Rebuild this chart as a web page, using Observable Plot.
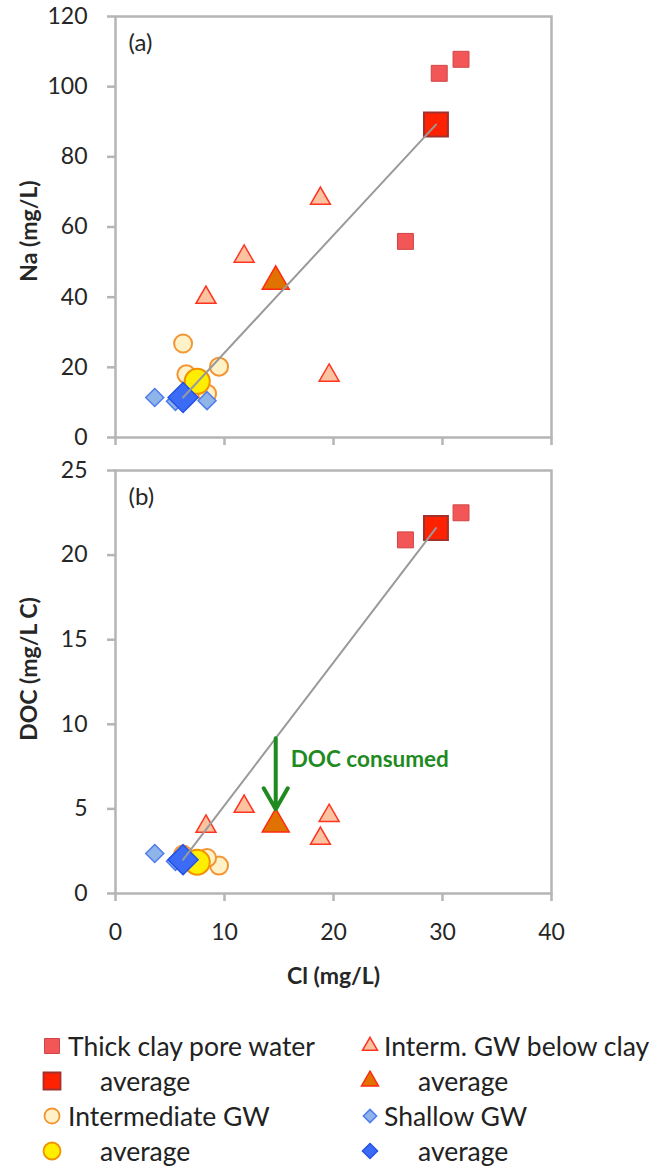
<!DOCTYPE html>
<html>
<head>
<meta charset="utf-8">
<script src="https://cdn.jsdelivr.net/npm/d3@7"></script>
<script src="https://cdn.jsdelivr.net/npm/@observablehq/plot@0.6"></script>
<style>
  body { margin: 0; background: #fff; font-family: Lato, "Open Sans", sans-serif; }
  #wrap { position: relative; width: 652px; height: 1168px; overflow: hidden; }
  #a, #b { display: block; line-height: 0; }
  #legend { position: absolute; left: 0; top: 1028px; width: 652px; height: 140px; font-size: 26.5px; color: #222; }
  .item { position: absolute; height: 35px; display: flex; align-items: center; white-space: nowrap; }
  .item svg { position: absolute; top: 7px; }
</style>
</head>
<body>
<div id="wrap">
  <div id="a"></div>
  <div id="b"></div>
  <div id="legend"></div>
</div>
<script>
// Sample groups
const groups = ["Thick clay pore water", "Interm. GW below clay", "Intermediate GW", "Shallow GW"];

// Thick clay pore water samples
const clayCl  = [29.7, 31.7, 26.6];
const clayNa  = [103.8, 107.8, 55.9];
const clayDOC = [21.5, 22.5, 20.9];

// Intermediate groundwater below the clay
const belowCl  = [18.8, 11.8, 8.3, 19.6];
const belowNa  = [68.1, 51.6, 39.9, 17.7];
const belowDOC = [3.25, 5.14, 3.96, 4.6];

// Intermediate groundwater
const interCl  = [6.2, 9.5, 6.5, 8.4];
const interNa  = [26.8, 20.2, 18.0, 12.5];
const interDOC = [2.3, 1.65, 2.05, 2.1];

// Shallow groundwater (one sample without DOC)
const shallowCl  = [3.6, 5.5, 8.4];
const shallowNa  = [11.4, 10.3, 10.5];
const shallowDOC = [2.36, 1.9, null];

// Group averages, in the order of `groups`
const avgCl  = [29.4, 14.7, 7.5, 6.2];
const avgNa  = [89.2, 44.5, 16.0, 11.4];
const avgDOC = [21.6, 4.1, 1.85, 2.0];

// Axis ticks
const xTicks   = [0, 10, 20, 30, 40];
const naTicks  = [0, 20, 40, 60, 80, 100, 120];
const docTicks = [0, 5, 10, 15, 20, 25];

const rows = (cl, na, doc) => cl.map((c, i) => ({Cl: c, Na: na[i], DOC: doc[i]}));
const samples = [
  rows(clayCl, clayNa, clayDOC),
  rows(belowCl, belowNa, belowDOC),
  rows(interCl, interNa, interDOC),
  rows(shallowCl, shallowNa, shallowDOC)
];
const averages = groups.map((g, i) => ({group: g, Cl: avgCl[i], Na: avgNa[i], DOC: avgDOC[i]}));

// Marker styles: sample marker, then average marker
const looks = [
  {symbol: "square", d3sym: d3.symbolSquare,
   pt:  {r: 9,    fill: "#f35656", stroke: "#d04646", strokeWidth: 1},
   avg: {r: 13.5, fill: "#ff2200", stroke: "#a3302c", strokeWidth: 2}},
  {symbol: "triangle", d3sym: d3.symbolTriangle,
   pt:  {r: 7.4,  fill: "#fbc3a0", stroke: "#ff3320", strokeWidth: 1.5},
   avg: {r: 10,   fill: "#e07200", stroke: "#ff2a10", strokeWidth: 1.5}},
  {symbol: "circle", d3sym: d3.symbolCircle,
   pt:  {r: 9,    fill: "#fff1c8", stroke: "#f39532", strokeWidth: 2},
   avg: {r: 12.5, fill: "#ffee00", stroke: "#f29200", strokeWidth: 2}},
  {symbol: "diamond2", d3sym: d3.symbolDiamond2,
   pt:  {r: 8.1,  fill: "#8fb4e8", stroke: "#4e7cf0", strokeWidth: 1.5},
   avg: {r: 13.5, fill: "#3c6cf6", stroke: "#2452e6", strokeWidth: 1.5}}
];

const GRID = "#b5b5b5";
const INK = "#262626";

function panel({key, ticks, yMax, height, marginTop, marginBottom, tag, yLabel, yLabelDy, showX, extra}) {
  const dots = [];
  looks.forEach((lk, i) => {
    dots.push(Plot.dot(samples[i], {x: "Cl", y: key, symbol: lk.symbol, ...lk.pt}));
    dots.push(Plot.dot([averages[i]], {x: "Cl", y: key, symbol: lk.symbol, ...lk.avg}));
  });
  // mixing line between the shallow and thick-clay averages
  const mixing = [averages[3], averages[0]];
  return Plot.plot({
    width: 652, height, marginLeft: 115, marginRight: 101, marginTop, marginBottom,
    style: {fontFamily: "Lato, 'Open Sans', sans-serif", fontSize: "23px", background: "#fff", color: INK},
    x: {domain: [0, 40]},
    y: {domain: [0, yMax]},
    marks: [
      Plot.frame({stroke: GRID, strokeWidth: 2.5}),
      Plot.axisY({ticks, tickSize: 8, tickPadding: 20, stroke: GRID, strokeWidth: 2.5, fill: INK, label: null}),
      Plot.axisX({ticks: xTicks, tickSize: 8, tickPadding: 22, stroke: GRID, strokeWidth: 2.5, fill: INK, label: null,
                  tickFormat: showX ? (d) => `${d}` : () => ""}),
      ...dots,
      Plot.line(mixing, {x: "Cl", y: key, stroke: "#9a9a9a", strokeWidth: 2}),
      Plot.text([tag], {frameAnchor: "top-left", dx: 13, dy: 27, lineAnchor: "middle", textAnchor: "start", fontSize: 24, fill: INK}),
      Plot.text([yLabel], {frameAnchor: "left", rotate: -90, dx: -86, dy: yLabelDy, textAnchor: "middle", lineAnchor: "middle",
                           fontWeight: "bold", fontSize: 23, fill: INK}),
      ...(extra || [])
    ]
  });
}

// DOC consumed: from the mixing line down to the average of the groundwater below the clay
const s = averages[3], c = averages[0], m = averages[1];
const lineDOC = s.DOC + (m.Cl - s.Cl) / (c.Cl - s.Cl) * (c.DOC - s.DOC);
const consumed = [{x: m.Cl, y1: lineDOC, y2: m.DOC}];

const chartA = panel({key: "Na", ticks: naTicks, yMax: 120, height: 455, marginTop: 16, marginBottom: 18,
  tag: "(a)", yLabel: "Na (mg/L)", yLabelDy: 4, showX: false});

const chartB = panel({key: "DOC", ticks: docTicks, yMax: 25, height: 538, marginTop: 15, marginBottom: 100,
  tag: "(b)", yLabel: "DOC (mg/L C)", yLabelDy: -13, showX: true,
  extra: [
    Plot.arrow(consumed, {x: "x", y1: "y1", y2: "y2", stroke: "#1f8a1f", strokeWidth: 4, headLength: 9, insetEnd: 15}),
    Plot.text(consumed, {x: "x", y: "y1", text: () => "DOC consumed", dx: 15, dy: 22, textAnchor: "start",
                         lineAnchor: "middle", fill: "#1f8a1f", fontWeight: "bold", fontSize: 22.5}),
    Plot.text(["Cl (mg/L)"], {frameAnchor: "bottom", dy: 83, lineAnchor: "middle", textAnchor: "middle",
                              fontWeight: "bold", fontSize: 23, fill: INK})
  ]});

document.getElementById("a").appendChild(chartA);
document.getElementById("b").appendChild(chartB);

// Legend: two columns, sample entry then its average
const legend = d3.select("#legend");
const colX = [{sym: 52, text: 68, avgText: 100}, {sym: 370, text: 384, avgText: 418}];
const order = [[0, 1], [2, 3]]; // rows of group pairs
const legendSizes = {pt: 15, avg: 17};
order.forEach((pair, r) => {
  pair.forEach((gi, col) => {
    const lk = looks[gi];
    ["pt", "avg"].forEach((kind, k) => {
      const top = (r * 2 + k) * 35;
      const cx = colX[col];
      const item = legend.append("div").attr("class", "item").style("left", "0px").style("top", top + "px").style("width", "652px");
      const svg = item.append("svg").attr("width", 22).attr("height", 22).style("left", (cx.sym - 11) + "px");
      const side = legendSizes[kind];
      let size = side * side;
      if (lk.symbol === "triangle") size = side * side * Math.sqrt(3) / 4;
      if (lk.symbol === "circle") size = Math.PI * side * side / 4;
      if (lk.symbol === "diamond2") size = side * side / 2;
      svg.append("path")
        .attr("transform", "translate(11,11)")
        .attr("d", d3.symbol(lk.d3sym, size)())
        .attr("fill", lk[kind].fill)
        .attr("stroke", lk[kind].stroke)
        .attr("stroke-width", Math.min(lk[kind].strokeWidth, 1.8));
      item.append("span")
        .style("position", "absolute")
        .style("left", (kind === "pt" ? cx.text : cx.avgText) + "px")
        .text(kind === "pt" ? groups[gi] : "average");
    });
  });
});
</script>
</body>
</html>
